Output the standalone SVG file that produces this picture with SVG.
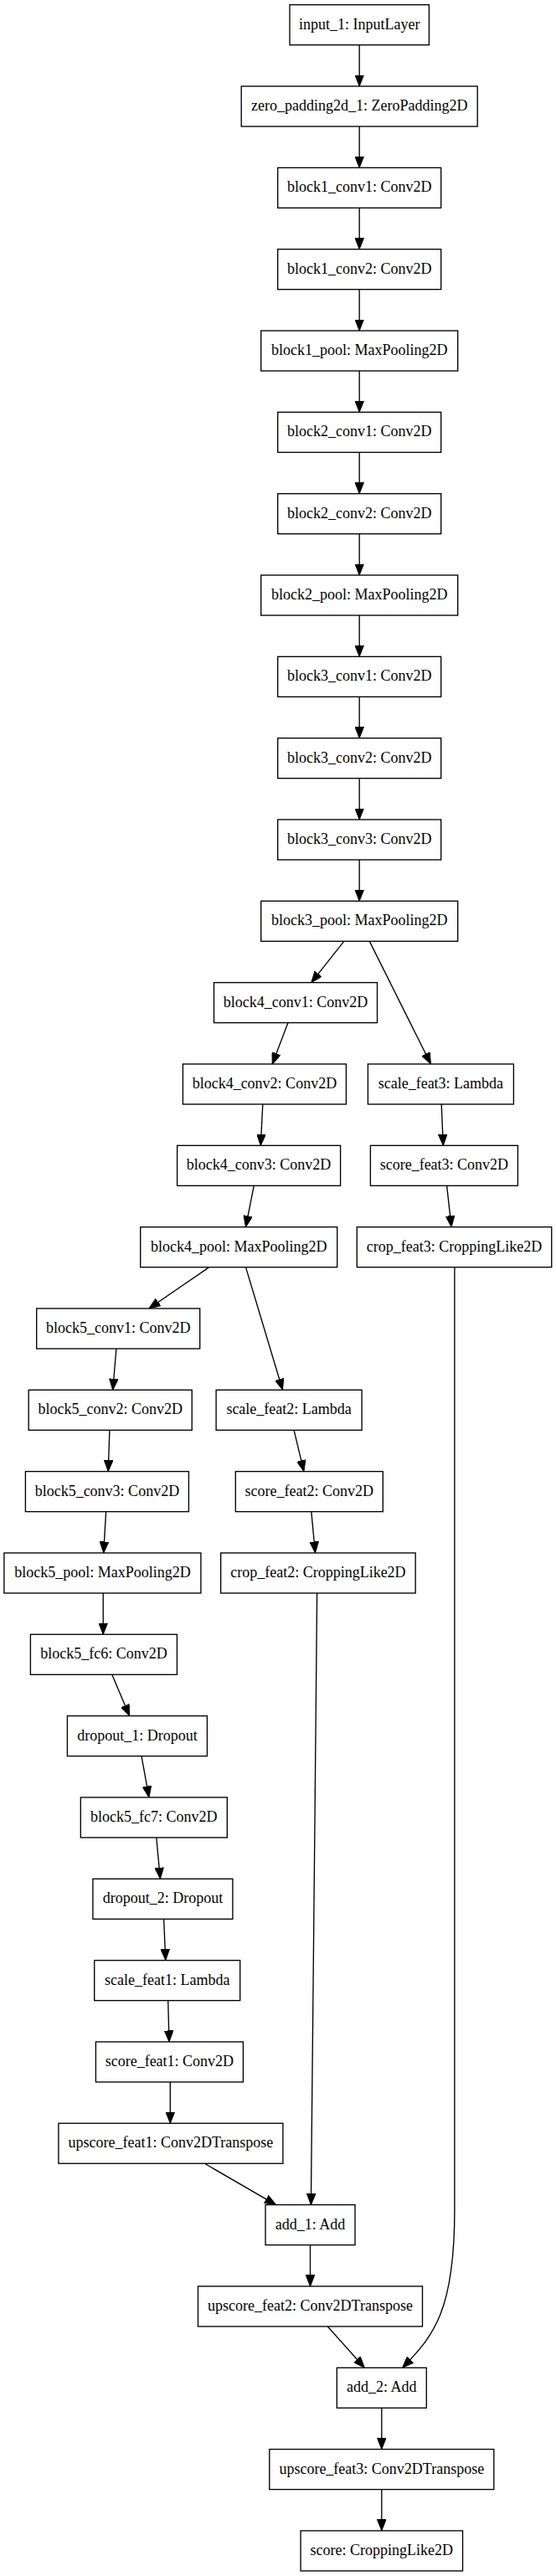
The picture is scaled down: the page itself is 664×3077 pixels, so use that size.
<svg xmlns="http://www.w3.org/2000/svg" width="664" height="3077" viewBox="0 0 664 3077">
<style>
.n rect{fill:#fff;stroke:#000;stroke-width:1.35}
.n text{font-family:"Liberation Serif","Times New Roman",serif;font-size:18px;fill:#000;text-anchor:middle}
#edges path{fill:none;stroke:#000;stroke-width:1.35;marker-end:url(#arr)}
</style>
<defs>
<marker id="arr" markerUnits="userSpaceOnUse" viewBox="0 0 13.5 10.6" refX="13.5" refY="5.3" markerWidth="13.5" markerHeight="10.6" orient="auto">
<path d="M0,0 L13.5,5.3 L0,10.6 z" fill="#000" stroke="#000" stroke-width="1"/>
</marker>
</defs>
<rect x="0" y="0" width="664" height="3077" fill="#fff"/>
<g id="edges">
<path d="M429.2,53.7 L429.2,103.03"/>
<path d="M429.2,151.03 L429.2,200.36"/>
<path d="M429.2,248.36 L429.2,297.69"/>
<path d="M429.2,345.69 L429.2,395.02"/>
<path d="M429.2,443.02 L429.2,492.35"/>
<path d="M429.2,540.35 L429.2,589.68"/>
<path d="M429.2,637.68 L429.2,687.01"/>
<path d="M429.2,735.01 L429.2,784.34"/>
<path d="M429.2,832.34 L429.2,881.67"/>
<path d="M429.2,929.67 L429.2,979"/>
<path d="M429.2,1027 L429.2,1076.33"/>
<path d="M410.8,1124.33 L371.8,1173.66"/>
<path d="M441.3,1124.33 L514.5,1270.99"/>
<path d="M343.9,1221.66 L325.2,1270.99"/>
<path d="M313.8,1318.99 L311.3,1368.32"/>
<path d="M527.2,1318.99 L529.3,1368.32"/>
<path d="M303.2,1416.32 L293.5,1465.65"/>
<path d="M533.6,1416.32 L539.1,1465.65"/>
<path d="M249.8,1513.65 L177.9,1562.98"/>
<path d="M293.5,1513.65 L337.5,1660.31"/>
<path d="M138.9,1610.98 L134.7,1660.31"/>
<path d="M130.9,1708.31 L129.2,1757.64"/>
<path d="M351.1,1708.31 L362.9,1757.64"/>
<path d="M126.6,1805.64 L123.7,1854.97"/>
<path d="M371.8,1805.64 L376.5,1854.97"/>
<path d="M123.2,1902.97 L123.2,1952.3"/>
<path d="M133.8,2000.3 L154.6,2049.63"/>
<path d="M169,2097.63 L177.9,2146.96"/>
<path d="M186.8,2194.96 L191.4,2244.29"/>
<path d="M195.6,2292.29 L197.8,2341.62"/>
<path d="M200.7,2389.62 L202,2438.95"/>
<path d="M203.3,2486.95 L203.3,2536.28"/>
<path d="M244.3,2584.28 L329.5,2633.61"/>
<path d="M378.6,1902.97 C375.5,2150 375,2450 371.4,2633.61"/>
<path d="M370.5,2681.61 L370.5,2730.94"/>
<path d="M391.3,2778.94 L435.3,2828.27"/>
<path d="M542.9,1513.65 L542.9,2640 C542.9,2760 518,2790 480.6,2828.27"/>
<path d="M455.8,2876.27 L455.8,2925.6"/>
<path d="M455.8,2973.6 L455.8,3022.93"/>
</g>
<g id="input_1" class="n"><rect x="346" y="5.7" width="166.4" height="48"/><text x="429.2" y="34.7">input_1: InputLayer</text></g>
<g id="zero_padding2d_1" class="n"><rect x="288.2" y="103.03" width="282" height="48"/><text x="429.2" y="132.03">zero_padding2d_1: ZeroPadding2D</text></g>
<g id="block1_conv1" class="n"><rect x="331.7" y="200.36" width="195" height="48"/><text x="429.2" y="229.36">block1_conv1: Conv2D</text></g>
<g id="block1_conv2" class="n"><rect x="331.7" y="297.69" width="195" height="48"/><text x="429.2" y="326.69">block1_conv2: Conv2D</text></g>
<g id="block1_pool" class="n"><rect x="311.7" y="395.02" width="235" height="48"/><text x="429.2" y="424.02">block1_pool: MaxPooling2D</text></g>
<g id="block2_conv1" class="n"><rect x="331.7" y="492.35" width="195" height="48"/><text x="429.2" y="521.35">block2_conv1: Conv2D</text></g>
<g id="block2_conv2" class="n"><rect x="331.7" y="589.68" width="195" height="48"/><text x="429.2" y="618.68">block2_conv2: Conv2D</text></g>
<g id="block2_pool" class="n"><rect x="311.7" y="687.01" width="235" height="48"/><text x="429.2" y="716.01">block2_pool: MaxPooling2D</text></g>
<g id="block3_conv1" class="n"><rect x="331.7" y="784.34" width="195" height="48"/><text x="429.2" y="813.34">block3_conv1: Conv2D</text></g>
<g id="block3_conv2" class="n"><rect x="331.7" y="881.67" width="195" height="48"/><text x="429.2" y="910.67">block3_conv2: Conv2D</text></g>
<g id="block3_conv3" class="n"><rect x="331.7" y="979" width="195" height="48"/><text x="429.2" y="1008">block3_conv3: Conv2D</text></g>
<g id="block3_pool" class="n"><rect x="311.7" y="1076.33" width="235" height="48"/><text x="429.2" y="1105.33">block3_pool: MaxPooling2D</text></g>
<g id="block4_conv1" class="n"><rect x="255.5" y="1173.66" width="195" height="48"/><text x="353" y="1202.66">block4_conv1: Conv2D</text></g>
<g id="block4_conv2" class="n"><rect x="218.4" y="1270.99" width="195" height="48"/><text x="315.9" y="1299.99">block4_conv2: Conv2D</text></g>
<g id="scale_feat3" class="n"><rect x="439.4" y="1270.99" width="174" height="48"/><text x="526.4" y="1299.99">scale_feat3: Lambda</text></g>
<g id="block4_conv3" class="n"><rect x="211.6" y="1368.32" width="195" height="48"/><text x="309.1" y="1397.32">block4_conv3: Conv2D</text></g>
<g id="score_feat3" class="n"><rect x="442.4" y="1368.32" width="176" height="48"/><text x="530.4" y="1397.32">score_feat3: Conv2D</text></g>
<g id="block4_pool" class="n"><rect x="167.7" y="1465.65" width="235" height="48"/><text x="285.2" y="1494.65">block4_pool: MaxPooling2D</text></g>
<g id="crop_feat3" class="n"><rect x="426.25" y="1465.65" width="232.5" height="48"/><text x="542.5" y="1494.65">crop_feat3: CroppingLike2D</text></g>
<g id="block5_conv1" class="n"><rect x="43.7" y="1562.98" width="195" height="48"/><text x="141.2" y="1591.98">block5_conv1: Conv2D</text></g>
<g id="block5_conv2" class="n"><rect x="34.2" y="1660.31" width="195" height="48"/><text x="131.7" y="1689.31">block5_conv2: Conv2D</text></g>
<g id="scale_feat2" class="n"><rect x="258.1" y="1660.31" width="174" height="48"/><text x="345.1" y="1689.31">scale_feat2: Lambda</text></g>
<g id="block5_conv3" class="n"><rect x="30.4" y="1757.64" width="195" height="48"/><text x="127.9" y="1786.64">block5_conv3: Conv2D</text></g>
<g id="score_feat2" class="n"><rect x="281.3" y="1757.64" width="176" height="48"/><text x="369.3" y="1786.64">score_feat2: Conv2D</text></g>
<g id="block5_pool" class="n"><rect x="4.9" y="1854.97" width="235" height="48"/><text x="122.4" y="1883.97">block5_pool: MaxPooling2D</text></g>
<g id="crop_feat2" class="n"><rect x="263.65" y="1854.97" width="232.5" height="48"/><text x="379.9" y="1883.97">crop_feat2: CroppingLike2D</text></g>
<g id="block5_fc6" class="n"><rect x="36.4" y="1952.3" width="175" height="48"/><text x="123.9" y="1981.3">block5_fc6: Conv2D</text></g>
<g id="dropout_1" class="n"><rect x="80.4" y="2049.63" width="167" height="48"/><text x="163.9" y="2078.63">dropout_1: Dropout</text></g>
<g id="block5_fc7" class="n"><rect x="96.3" y="2146.96" width="175" height="48"/><text x="183.8" y="2175.96">block5_fc7: Conv2D</text></g>
<g id="dropout_2" class="n"><rect x="110.9" y="2244.29" width="167" height="48"/><text x="194.4" y="2273.29">dropout_2: Dropout</text></g>
<g id="scale_feat1" class="n"><rect x="112.7" y="2341.62" width="174" height="48"/><text x="199.7" y="2370.62">scale_feat1: Lambda</text></g>
<g id="score_feat1" class="n"><rect x="114.4" y="2438.95" width="176" height="48"/><text x="202.4" y="2467.95">score_feat1: Conv2D</text></g>
<g id="upscore_feat1" class="n"><rect x="69.9" y="2536.28" width="268" height="48"/><text x="203.9" y="2565.28">upscore_feat1: Conv2DTranspose</text></g>
<g id="add_1" class="n"><rect x="317" y="2633.61" width="107" height="48"/><text x="370.5" y="2662.61">add_1: Add</text></g>
<g id="upscore_feat2" class="n"><rect x="236.5" y="2730.94" width="268" height="48"/><text x="370.5" y="2759.94">upscore_feat2: Conv2DTranspose</text></g>
<g id="add_2" class="n"><rect x="402.3" y="2828.27" width="107" height="48"/><text x="455.8" y="2857.27">add_2: Add</text></g>
<g id="upscore_feat3" class="n"><rect x="321.8" y="2925.6" width="268" height="48"/><text x="455.8" y="2954.6">upscore_feat3: Conv2DTranspose</text></g>
<g id="score" class="n"><rect x="359.05" y="3022.93" width="193.5" height="48"/><text x="455.8" y="3051.93">score: CroppingLike2D</text></g>
</svg>
